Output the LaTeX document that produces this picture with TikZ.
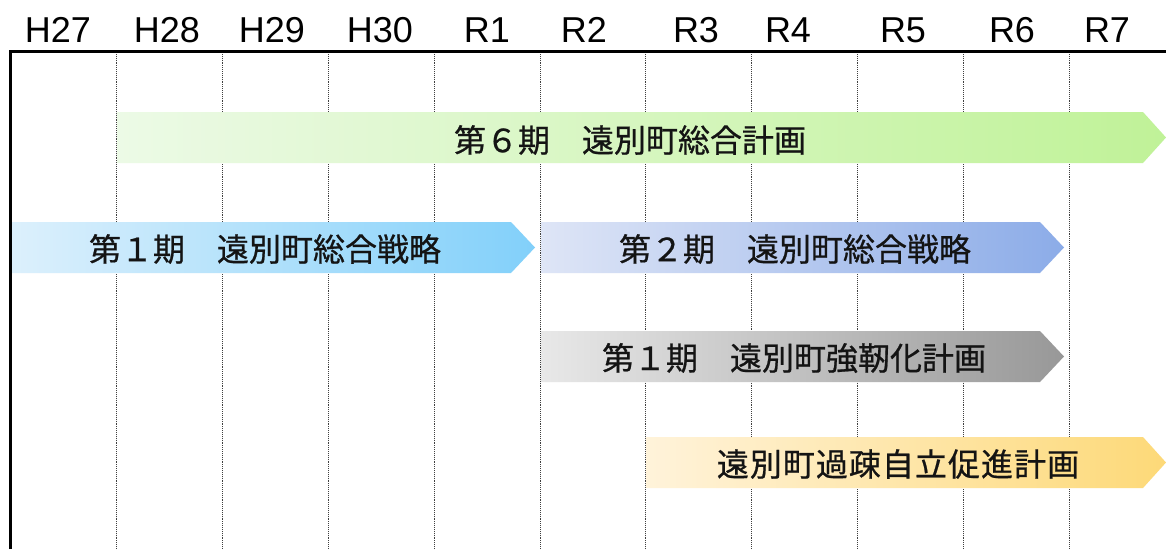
\documentclass[tikz,border=0pt]{standalone}
\usepackage{fontspec}
\setmainfont{Liberation Sans}
\newfontfamily\jp[FakeBold=0.7]{Noto Sans CJK JP}
\newfontfamily\jpw[FakeBold=0.7,LetterSpace=3.2]{Noto Sans CJK JP}
\definecolor{gA}{RGB}{236,250,230}
\definecolor{gB}{RGB}{192,242,152}
\definecolor{bA}{RGB}{220,240,252}
\definecolor{bB}{RGB}{130,208,250}
\definecolor{pA}{RGB}{222,229,246}
\definecolor{pB}{RGB}{140,172,232}
\definecolor{kA}{RGB}{232,232,232}
\definecolor{kB}{RGB}{152,152,152}
\definecolor{yA}{RGB}{255,243,218}
\definecolor{yB}{RGB}{253,217,120}
\begin{document}
\begin{tikzpicture}[x=1pt,y=-1pt,
  year/.style={anchor=base, font=\fontsize{36}{40}\selectfont, inner sep=0pt},
  gridline/.style={densely dotted, line width=0.9pt, black!75},
  lbl/.style={font=\jp\fontsize{32}{35}\selectfont, inner sep=0pt, text=black!92},
  lblw/.style={font=\jpw\fontsize{32}{35}\selectfont, inner sep=0pt, text=black!92}]
\useasboundingbox (0,0) rectangle (1166,549);
\fill[white] (0,0) rectangle (1166,549);
% year labels
\node[year] (y1) at (58,42) {H27};
\node[year] (y2) at (167,42) {H28};
\node[year] (y3) at (272,42) {H29};
\node[year] (y4) at (380,42) {H30};
\node[year] (y5) at (487,42) {R1};
\node[year] (y6) at (584,42) {R2};
\node[year] (y7) at (696,42) {R3};
\node[year] (y8) at (788,42) {R4};
\node[year] (y9) at (903,42) {R5};
\node[year] (y10) at (1012,42) {R6};
\node[year] (y11) at (1107,42) {R7};
% grid
\foreach \i in {0,...,9}
  \draw[gridline] ({116.7+105.84*\i},52) -- ({116.7+105.84*\i},549);
% bars
\shade[left color=gA, right color=gB] (117,112) -- (1143,112) -- (1166,137.5) -- (1143,163) -- (117,163) -- cycle;
\shade[left color=bA, right color=bB] (12,222) -- (511,222) -- (535,247.5) -- (511,273) -- (12,273) -- cycle;
\shade[left color=pA, right color=pB] (541,222) -- (1040,222) -- (1064,247.5) -- (1040,273) -- (541,273) -- cycle;
\shade[left color=kA, right color=kB] (541,331) -- (1040,331) -- (1064,356.5) -- (1040,382) -- (541,382) -- cycle;
\shade[left color=yA, right color=yB] (646,437) -- (1143,437) -- (1166,462.5) -- (1143,488) -- (646,488) -- cycle;
% labels
\node[lbl] (t1) at (630,140) {第６期　遠別町総合計画};
\node[lbl] (t2) at (265,249) {第１期　遠別町総合戦略};
\node[lbl] (t3) at (795,249) {第２期　遠別町総合戦略};
\node[lbl] (t4) at (794,358) {第１期　遠別町強靭化計画};
\node[lblw] (t5) at (898,464) {遠別町過疎自立促進計画};
% frame
\draw[line width=2.5pt] (10.5,549) -- (10.5,51.5) -- (1166,51.5);
\end{tikzpicture}
\end{document}
